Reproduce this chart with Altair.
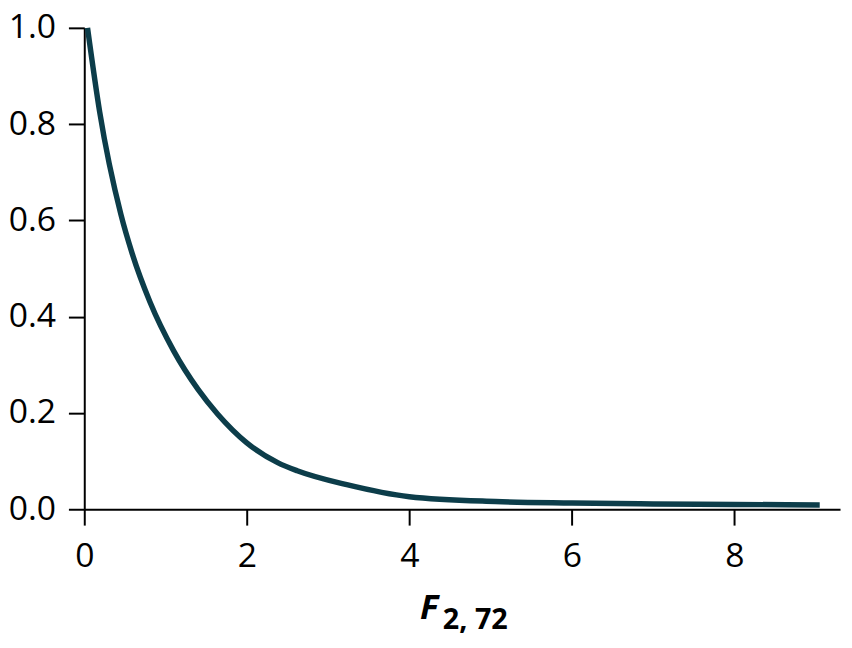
import altair as alt
import pandas as pd

# values
f_values = [0.04, 0.19, 0.45, 0.59, 0.81, 1.10, 1.40, 1.64, 2.0, 2.38,
            2.62, 3.23, 4.0, 5.06, 6.0, 7.0, 8.0, 9.05]
density = [1.0, 0.825, 0.613, 0.531, 0.43, 0.329, 0.249, 0.198, 0.138, 0.097,
           0.080, 0.051, 0.026, 0.016, 0.013, 0.011, 0.010, 0.009]

x_ticks = [0, 2, 4, 6, 8]
y_ticks = [0.0, 0.2, 0.4, 0.6, 0.8, 1.0]

title_main = "F"
title_sub = "2, 72"

FONT = "Open Sans"
LINE = "#0c3d4a"

df = pd.DataFrame({"f": f_values, "density": density})

curve = alt.Chart(df).mark_line(
    color=LINE, strokeWidth=5.5, interpolate="monotone", strokeCap="butt", clip=False
).encode(
    x=alt.X("f:Q", scale=alt.Scale(domain=[0, 9.3], nice=False),
            axis=alt.Axis(values=x_ticks, format="d", title=None,
                          labelPadding=15, labelFlush=False)),
    y=alt.Y("density:Q", scale=alt.Scale(domain=[0, 1], nice=False),
            axis=alt.Axis(values=y_ticks, format=".1f", title=None,
                          labelPadding=13, labelFlush=False)),
)

# axis title with subscript, built from two text pieces
f_text = alt.Chart(pd.DataFrame({"t": [title_main]})).mark_text(
    font=FONT, fontSize=35, fontWeight="bold", fontStyle="italic",
    align="left", baseline="alphabetic", color="black"
).encode(text="t:N", x=alt.value(339), y=alt.value(597))

sub_text = alt.Chart(pd.DataFrame({"t": [title_sub]})).mark_text(
    font=FONT, fontSize=29, fontWeight="bold",
    align="left", baseline="alphabetic", color="black"
).encode(text="t:N", x=alt.value(362), y=alt.value(607))

chart = alt.layer(curve, f_text, sub_text).properties(
    width=763, height=486,
    autosize=alt.AutoSizeParams(type="none"),
    padding={"left": 77, "top": 17, "right": 4, "bottom": 135},
).configure_view(
    stroke=None
).configure_axis(
    grid=False,
    domainColor="black", domainWidth=2,
    tickColor="black", tickWidth=2, tickSize=16,
    labelFont=FONT, labelFontSize=34, labelColor="black",
)

chart.save("out.html", embed_options={"renderer": "svg", "actions": False})
